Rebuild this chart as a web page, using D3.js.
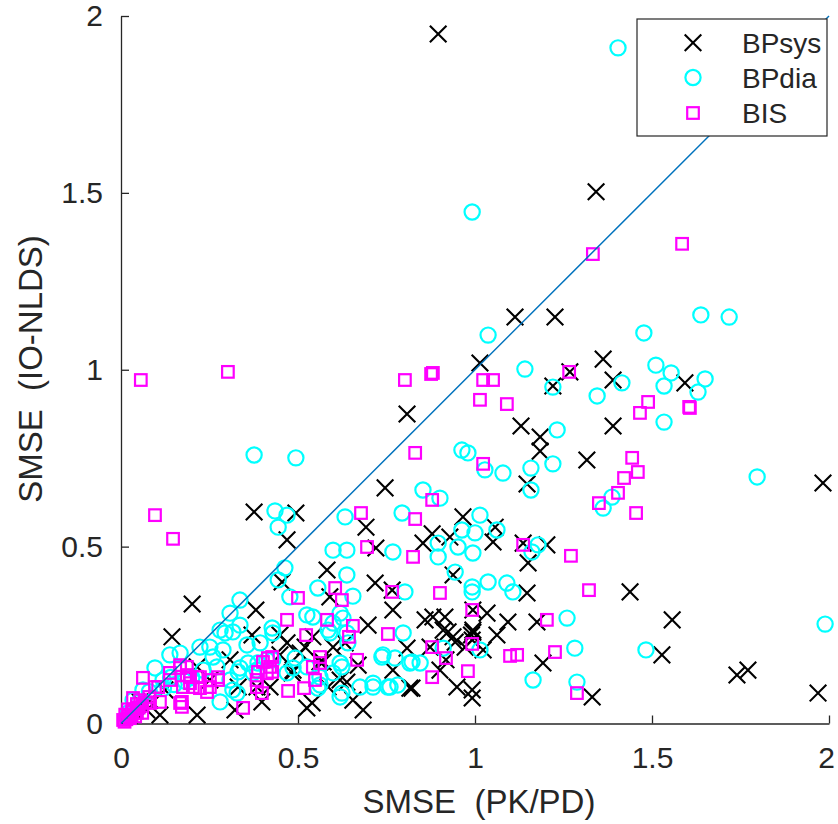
<!DOCTYPE html>
<html><head><meta charset="utf-8">
<script src="https://cdn.jsdelivr.net/npm/d3@7/dist/d3.min.js"></script>
<style>
body{margin:0;background:#fff}
svg{display:block}
text{font-family:"Liberation Sans",Arial,Helvetica,sans-serif;fill:#262626}
</style>
</head><body>
<svg id="chart" width="838" height="824"></svg>
<script>
const xTicks = [0, 0.5, 1, 1.5, 2];
const yTicks = [0, 0.5, 1, 1.5, 2];
const seriesNames = ["BPsys", "BPdia", "BIS"];
const xLabel = "SMSE  (PK/PD)";
const yLabel = "SMSE  (IO-NLDS)";
const identityLine = [[0, 0], [2, 2]];

const bpsys = [[0.896,1.949],[1.342,1.503],[1.113,1.149],[1.226,1.149],[1.014,1.019],[1.362,1.030],[1.390,0.971],[1.593,0.963],[1.220,0.954],[1.268,0.994],[1.130,0.841],[1.390,0.841],[1.184,0.810],[1.184,0.770],[1.316,0.745],[1.147,0.677],[1.983,0.680],[0.808,0.875],[0.746,0.666],[0.376,0.598],[0.494,0.595],[0.469,0.519],[0.692,0.555],[0.720,0.496],[0.582,0.434],[0.455,0.400],[0.718,0.397],[0.201,0.338],[0.381,0.321],[0.768,0.321],[0.144,0.245],[0.698,0.278],[0.966,0.584],[1.057,0.555],[0.879,0.536],[0.853,0.510],[0.929,0.527],[1.051,0.513],[1.136,0.510],[1.203,0.505],[1.150,0.454],[0.938,0.420],[1.147,0.369],[1.438,0.372],[0.994,0.321],[1.034,0.312],[0.881,0.301],[0.915,0.301],[0.859,0.293],[1.093,0.287],[1.175,0.287],[1.557,0.293],[0.910,0.264],[0.994,0.264],[0.938,0.245],[1.062,0.250],[0.992,0.236],[0.873,0.216],[0.972,0.216],[1.528,0.194],[1.192,0.171],[0.901,0.151],[0.949,0.103],[0.992,0.095],[0.992,0.072],[1.331,0.075],[1.740,0.137],[1.771,0.151],[1.969,0.086],[0.525,0.044],[0.215,0.024],[0.110,0.024],[0.684,0.038],[0.540,0.058],[0.918,0.180],[0.822,0.100],[0.768,0.151],[0.619,0.123],[0.633,0.228],[0.571,0.174],[0.486,0.151],[0.542,0.245],[0.506,0.199],[0.370,0.250],[0.308,0.180],[0.331,0.103],[0.322,0.038],[0.398,0.061],[0.073,0.038],[0.215,0.160],[0.251,0.123],[0.421,0.103],[0.124,0.095],[0.054,0.061],[0.469,0.228],[0.766,0.377],[0.590,0.358],[0.449,0.250],[0.449,0.194],[0.520,0.216],[0.599,0.216],[0.562,0.174],[0.483,0.143],[0.585,0.103],[0.638,0.117],[0.670,0.165],[0.816,0.100],[0.808,0.213],[0.924,0.259],[0.944,0.230],[1.023,0.208],[0.025,0.024],[0.082,0.066],[0.655,0.066],[0.384,0.103],[0.994,0.258],[0.990,0.250]];

const bpdia = [[1.404,1.910],[0.992,1.446],[1.037,1.098],[1.638,1.155],[1.718,1.149],[1.477,1.104],[1.141,1.002],[1.511,1.013],[1.554,0.991],[1.650,0.974],[1.534,0.954],[1.630,0.937],[1.415,0.963],[1.345,0.926],[1.220,0.951],[1.534,0.852],[1.232,0.830],[1.220,0.734],[1.158,0.722],[1.079,0.708],[1.158,0.660],[1.797,0.697],[1.387,0.640],[1.362,0.609],[1.178,0.505],[1.161,0.485],[0.963,0.773],[0.980,0.765],[1.028,0.717],[0.853,0.660],[0.901,0.637],[1.014,0.589],[0.963,0.547],[1.000,0.539],[1.062,0.547],[0.896,0.510],[0.952,0.499],[0.994,0.482],[0.896,0.471],[0.944,0.428],[0.992,0.386],[0.992,0.372],[1.037,0.400],[1.090,0.397],[1.107,0.372],[1.260,0.298],[1.989,0.281],[0.910,0.213],[1.014,0.208],[1.282,0.213],[1.483,0.208],[1.164,0.123],[1.288,0.117],[0.376,0.759],[0.494,0.751],[0.435,0.601],[0.469,0.589],[0.444,0.555],[0.633,0.584],[0.794,0.595],[0.599,0.490],[0.638,0.490],[0.768,0.485],[0.638,0.420],[0.556,0.383],[0.655,0.360],[0.802,0.372],[0.463,0.440],[0.444,0.406],[0.477,0.358],[0.336,0.349],[0.308,0.312],[0.280,0.264],[0.316,0.259],[0.223,0.216],[0.138,0.194],[0.167,0.199],[0.096,0.157],[0.427,0.270],[0.542,0.301],[0.585,0.264],[0.619,0.312],[0.638,0.256],[0.492,0.185],[0.486,0.157],[0.619,0.171],[0.562,0.109],[0.624,0.086],[0.675,0.103],[0.712,0.103],[0.754,0.103],[0.782,0.109],[0.737,0.188],[0.774,0.185],[0.816,0.171],[0.336,0.157],[0.280,0.061],[0.316,0.095],[0.373,0.143],[0.412,0.180],[0.469,0.143],[0.356,0.222],[0.393,0.228],[0.429,0.256],[0.797,0.256],[0.525,0.307],[0.599,0.284],[0.590,0.256],[0.627,0.298],[0.641,0.228],[0.740,0.194],[0.822,0.174],[0.525,0.160],[0.562,0.131],[0.556,0.100],[0.624,0.160],[0.619,0.075],[0.712,0.114],[0.760,0.103],[0.336,0.278],[0.294,0.256],[0.288,0.208],[0.251,0.216],[0.260,0.188],[0.119,0.123],[0.359,0.171],[0.331,0.146],[0.308,0.123],[0.328,0.086],[0.387,0.171],[0.384,0.151],[0.429,0.180],[0.232,0.151],[0.271,0.160],[0.062,0.095],[0.034,0.066],[0.120,0.100],[0.150,0.110],[0.180,0.120],[0.200,0.130],[0.140,0.130],[0.599,0.143],[0.845,0.171],[0.020,0.030],[0.050,0.060],[0.080,0.090]];

const bis = [[0.056,0.971],[0.302,0.994],[0.802,0.971],[0.881,0.991],[0.876,0.988],[1.023,0.971],[1.051,0.971],[1.014,0.915],[1.090,0.903],[1.333,1.327],[1.585,1.356],[1.266,0.994],[1.489,0.909],[1.466,0.878],[1.605,0.895],[1.607,0.892],[1.444,0.751],[1.460,0.711],[1.421,0.694],[1.404,0.652],[1.350,0.623],[1.455,0.595],[1.136,0.505],[1.271,0.474],[1.023,0.734],[0.879,0.632],[1.322,0.377],[0.901,0.369],[0.992,0.321],[1.203,0.293],[0.992,0.225],[0.879,0.216],[0.918,0.185],[1.099,0.191],[1.119,0.194],[1.226,0.202],[0.980,0.148],[0.879,0.131],[1.288,0.086],[0.096,0.589],[0.147,0.522],[0.831,0.765],[0.678,0.595],[0.695,0.499],[0.831,0.578],[0.825,0.471],[0.766,0.372],[0.500,0.355],[0.605,0.383],[0.624,0.349],[0.469,0.293],[0.582,0.293],[0.523,0.250],[0.655,0.276],[0.644,0.245],[0.754,0.253],[0.667,0.180],[0.415,0.185],[0.421,0.160],[0.387,0.146],[0.562,0.188],[0.562,0.171],[0.542,0.160],[0.548,0.123],[0.472,0.092],[0.517,0.100],[0.345,0.044],[0.384,0.103],[0.398,0.086],[0.274,0.123],[0.251,0.103],[0.223,0.100],[0.195,0.114],[0.172,0.061],[0.172,0.047],[0.186,0.137],[0.167,0.165],[0.138,0.143],[0.105,0.103],[0.110,0.061],[0.082,0.058],[0.062,0.129],[0.034,0.072],[0.031,0.033],[0.006,0.010],[0.045,0.030],[0.054,0.066],[0.096,0.103],[0.138,0.123],[0.167,0.157],[0.195,0.131],[0.175,0.103],[0.167,0.058],[0.223,0.131],[0.251,0.123],[0.274,0.131],[0.203,0.103],[0.243,0.089],[0.427,0.188],[0.427,0.146],[0.401,0.174],[0.412,0.142],[0.383,0.123],[0.186,0.160],[0.214,0.132],[0.010,0.005],[0.015,0.012],[0.020,0.020],[0.025,0.015],[0.030,0.025],[0.012,0.025],[0.035,0.040],[0.040,0.020],[0.050,0.045],[0.060,0.050],[0.070,0.060],[0.045,0.055],[0.080,0.075],[0.020,0.040],[0.060,0.030]];

const svg = d3.select("#chart");
const x = d3.scaleLinear().domain([0, 2]).range([121, 829]);
const y = d3.scaleLinear().domain([0, 2]).range([723.5, 16]);
const ink = "#262626";

// axes
const fmt = d => String(d);
const gx = svg.append("g").attr("transform", "translate(0,723.5)")
  .call(d3.axisBottom(x).tickValues(xTicks).tickFormat(fmt).tickSize(-8).tickSizeOuter(0).tickPadding(23));
const gy = svg.append("g").attr("transform", "translate(121,0)")
  .call(d3.axisLeft(y).tickValues(yTicks).tickFormat(fmt).tickSize(-8).tickSizeOuter(0).tickPadding(18));
[gx, gy].forEach(g => {
  g.select(".domain").attr("stroke", ink).attr("stroke-width", 1.3);
  g.selectAll(".tick line").attr("stroke", ink).attr("stroke-width", 1.3);
  g.selectAll(".tick text").attr("fill", ink).style("font-size", "30px")
   .style("font-family", "'Liberation Sans', Arial, sans-serif");
});
gx.selectAll(".tick text").filter(d => d === 2).attr("dx", -3);

// axis labels
svg.append("text").attr("x", 479).attr("y", 813).attr("text-anchor", "middle")
  .style("font-size", "33px").style("white-space", "pre").text(xLabel);
svg.append("text").attr("transform", "translate(42,369) rotate(-90)").attr("text-anchor", "middle")
  .style("font-size", "33px").style("white-space", "pre").text(yLabel);

const plot = svg.append("g");
const H = 8.3;
function drawX(g, data) {
  g.selectAll("path.x").data(data).enter().append("path")
    .attr("d", d => { const cx = x(d[0]), cy = y(d[1]);
      return `M${cx-H},${cy-H}L${cx+H},${cy+H}M${cx-H},${cy+H}L${cx+H},${cy-H}`; })
    .attr("stroke", "#000").attr("stroke-width", 2.1).attr("fill", "none");
}
function drawO(g, data) {
  g.selectAll("circle").data(data).enter().append("circle")
    .attr("cx", d => x(d[0])).attr("cy", d => y(d[1])).attr("r", 7.6)
    .attr("stroke", "#00FFFF").attr("stroke-width", 2.2).attr("fill", "none");
}
function drawS(g, data) {
  g.selectAll("rect").data(data).enter().append("rect")
    .attr("x", d => x(d[0]) - 5.8).attr("y", d => y(d[1]) - 5.8)
    .attr("width", 11.6).attr("height", 11.6)
    .attr("stroke", "#FF00FF").attr("stroke-width", 2.2).attr("fill", "none");
}
drawX(plot.append("g"), bpsys);
drawO(plot.append("g"), bpdia);
drawS(plot.append("g"), bis);

// identity line
svg.append("path").datum(identityLine)
  .attr("d", d3.line().x(d => x(d[0])).y(d => y(d[1])))
  .attr("stroke", "#0072BD").attr("stroke-width", 1.5).attr("fill", "none");

// legend
const lg = svg.append("g");
lg.append("rect").attr("x", 637).attr("y", 19).attr("width", 190).attr("height", 117)
  .attr("fill", "#fff").attr("stroke", ink).attr("stroke-width", 1.2);
const rowsY = [42.7, 77.5, 113];
const mx = 693;
lg.append("path").attr("d", `M${mx-H},${rowsY[0]-H}L${mx+H},${rowsY[0]+H}M${mx-H},${rowsY[0]+H}L${mx+H},${rowsY[0]-H}`)
  .attr("stroke", "#000").attr("stroke-width", 2.1);
lg.append("circle").attr("cx", mx).attr("cy", rowsY[1]).attr("r", 7.6)
  .attr("stroke", "#00FFFF").attr("stroke-width", 2.2).attr("fill", "none");
lg.append("rect").attr("x", mx - 5.8).attr("y", rowsY[2] - 5.8).attr("width", 11.6).attr("height", 11.6)
  .attr("stroke", "#FF00FF").attr("stroke-width", 2.2).attr("fill", "none");
lg.selectAll("text.lab").data(seriesNames).enter().append("text")
  .attr("x", 742).attr("y", (d, i) => rowsY[i] + 10).style("font-size", "28px").text(d => d);
</script>
</body></html>
